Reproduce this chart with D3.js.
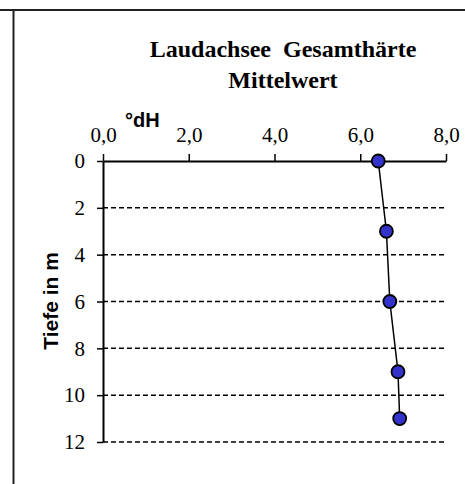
<!DOCTYPE html>
<html>
<head>
<meta charset="utf-8">
<script src="https://cdn.jsdelivr.net/npm/d3@7"></script>
<style>
  body { margin: 0; background: #fff; }
  svg { display: block; }
</style>
</head>
<body>
<svg id="chart" width="465" height="484"></svg>
<script>
// depth in m and mean total hardness in °dH
var depths = [0, 3, 6, 9, 11];
var hardness = [6.42, 6.61, 6.69, 6.88, 6.92];
var xTicks = [0, 2, 4, 6, 8];
var yTicks = [0, 2, 4, 6, 8, 10, 12];
var titleLines = ["Laudachsee  Gesamthärte", "Mittelwert"];

var markerColor = "#3333CC";
var serif = "'Liberation Serif', 'Times New Roman', serif";
var sans = "'Liberation Sans', Arial, sans-serif";

var svg = d3.select("#chart");

// outer frame
svg.append("line")
   .attr("x1", 0).attr("x2", 465).attr("y1", 10).attr("y2", 10)
   .attr("stroke", "#222").attr("stroke-width", 2);
svg.append("line")
   .attr("x1", 13.5).attr("x2", 13.5).attr("y1", 10).attr("y2", 484)
   .attr("stroke", "#222").attr("stroke-width", 2);

var xScale = d3.scaleLinear().domain([0, 8]).range([103, 446]);
var yScale = d3.scaleLinear().domain([0, 12]).range([161, 442]);

// title
svg.append("text")
   .attr("x", 283)
   .attr("y", 57)
   .attr("text-anchor", "middle")
   .attr("font-family", serif)
   .attr("font-weight", "bold")
   .attr("font-size", "24px")
   .selectAll("tspan")
   .data(titleLines)
   .enter().append("tspan")
   .attr("x", 283)
   .attr("dy", function(d, i) { return i == 0 ? 0 : 31; })
   .style("white-space", "pre")
   .text(function(d) { return d; });

// dashed gridlines
svg.append("g")
   .selectAll("line")
   .data(yTicks.filter(function(d) { return d > 0; }))
   .enter().append("line")
   .attr("x1", xScale(0))
   .attr("x2", xScale(8))
   .attr("y1", function(d) { return yScale(d); })
   .attr("y2", function(d) { return yScale(d); })
   .attr("stroke", "#000")
   .attr("stroke-width", 1.5)
   .attr("stroke-dasharray", "5,3");

// x axis on top
var xAxis = svg.append("g")
   .attr("transform", "translate(0," + yScale(0) + ")")
   .call(d3.axisTop(xScale)
      .tickValues(xTicks)
      .tickSize(7)
      .tickSizeOuter(0)
      .tickPadding(12)
      .tickFormat(function(d) { return d3.format(".1f")(d).replace(".", ","); }));

// y axis
var yAxis = svg.append("g")
   .attr("transform", "translate(" + xScale(0) + ",0)")
   .call(d3.axisLeft(yScale)
      .tickValues(yTicks)
      .tickSize(6)
      .tickSizeOuter(0)
      .tickPadding(12));

[xAxis, yAxis].forEach(function(ax) {
   ax.select(".domain").attr("stroke", "#000").attr("stroke-width", 2);
   ax.selectAll(".tick line").attr("stroke", "#000").attr("stroke-width", 1.5);
   ax.selectAll(".tick text")
     .attr("font-family", serif)
     .attr("font-size", "21px")
     .attr("fill", "#000");
});

// axis titles
svg.append("text")
   .attr("x", 125)
   .attr("y", 127)
   .attr("font-family", sans)
   .attr("font-weight", "bold")
   .attr("font-size", "20px")
   .text("°dH");

svg.append("text")
   .attr("transform", "translate(58,301) rotate(-90)")
   .attr("text-anchor", "middle")
   .attr("font-family", sans)
   .attr("font-weight", "bold")
   .attr("font-size", "21px")
   .text("Tiefe in m");

// profile line
var points = depths.map(function(d, i) { return { depth: d, value: hardness[i] }; });

svg.append("path")
   .datum(points)
   .attr("fill", "none")
   .attr("stroke", "#000")
   .attr("stroke-width", 1.5)
   .attr("d", d3.line()
      .x(function(d) { return xScale(d.value); })
      .y(function(d) { return yScale(d.depth); }));

svg.selectAll(".marker")
   .data(points)
   .enter().append("circle")
   .attr("class", "marker")
   .attr("cx", function(d) { return xScale(d.value); })
   .attr("cy", function(d) { return yScale(d.depth); })
   .attr("r", 6.5)
   .attr("fill", markerColor)
   .attr("stroke", "#000")
   .attr("stroke-width", 1.8);
</script>
</body>
</html>
